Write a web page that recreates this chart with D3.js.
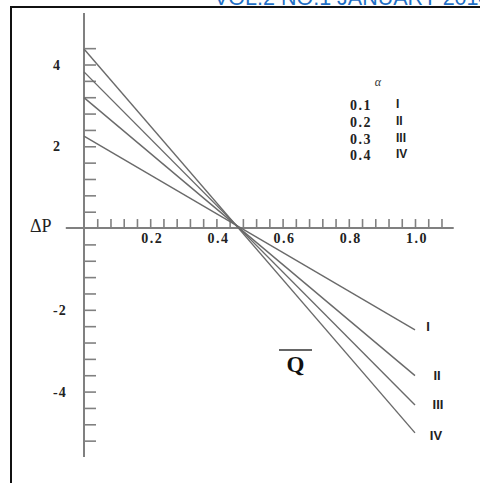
<!DOCTYPE html>
<html>
<head>
<meta charset="utf-8">
<script src="https://cdn.jsdelivr.net/npm/d3@7"></script>
<style>
  body { margin: 0; background: #fff; }
  svg { display: block; }
</style>
</head>
<body>
<svg id="chart"></svg>
<script>
// Series data (delta P at Q = 0 and at Q = 1)
const alphas = [0.1, 0.2, 0.3, 0.4];
const seriesNames = ["I", "II", "III", "IV"];
const startValues = [2.25, 3.19, 3.82, 4.38];
const endValues = [-2.49, -3.61, -4.33, -5.01];
const qPoints = [0, 1];

// Axis labels
const xTickLabels = [0.2, 0.4, 0.6, 0.8, 1.0];
const yTickLabels = [4, 2, -2, -4];

const width = 480, height = 483;
const svg = d3.select("#chart").attr("width", width).attr("height", height);

const x = d3.scaleLinear().domain([0, 1]).range([84, 415]);
const y = d3.scaleLinear().domain([-5.6, 5.26]).range([457, 13]);

const axisColor = "#808080";
const serif = "'Liberation Serif', 'Times New Roman', serif";
const sans = "'Liberation Sans', Arial, sans-serif";

// page header (clipped at top, as on the page) and frame
svg.append("text")
    .attr("x", 214).attr("y", 5)
    .attr("font-family", sans).attr("font-size", "21.5px")
    .attr("fill", "#1f6fc5")
    .text("VOL.2 NO.1 JANUARY 2014");

svg.append("line").attr("x1", 10).attr("x2", width).attr("y1", 7).attr("y2", 7)
    .attr("stroke", "#111").attr("stroke-width", 2);
svg.append("line").attr("x1", 11).attr("x2", 11).attr("y1", 6).attr("y2", height)
    .attr("stroke", "#111").attr("stroke-width", 2);

// axis lines
svg.append("line")
    .attr("x1", x(-0.055)).attr("x2", x(1.117))
    .attr("y1", y(0)).attr("y2", y(0))
    .attr("stroke", axisColor).attr("stroke-width", 2);
svg.append("line")
    .attr("x1", x(0)).attr("x2", x(0))
    .attr("y1", y(5.26)).attr("y2", y(-5.6))
    .attr("stroke", axisColor).attr("stroke-width", 2);

// minor ticks, no labels
const xTicks = d3.range(1, 28).map(i => i * 0.04);
const yTicks = d3.range(-13, 12).filter(i => i !== 0).map(i => i * 0.4);

const xAxis = svg.append("g")
    .attr("transform", `translate(0,${y(0)})`)
    .call(d3.axisTop(x).tickValues(xTicks).tickSize(9).tickFormat(""));
xAxis.select(".domain").remove();
xAxis.selectAll("line").attr("stroke", axisColor).attr("stroke-width", 1.6);

const yAxis = svg.append("g")
    .attr("transform", `translate(${x(0)},0)`)
    .call(d3.axisRight(y).tickValues(yTicks).tickSize(12).tickFormat(""));
yAxis.select(".domain").remove();
yAxis.selectAll("line").attr("stroke", axisColor).attr("stroke-width", 1.6);

// tick labels
svg.selectAll(".xlab").data(xTickLabels).enter().append("text")
    .attr("x", d => x(d) + 2)
    .attr("y", y(0) + 15)
    .attr("text-anchor", "middle")
    .attr("font-family", serif).attr("font-weight", "bold")
    .attr("font-size", "14px").attr("letter-spacing", "1.5px")
    .attr("fill", "#222")
    .text(d => d.toFixed(1));

svg.selectAll(".ylab").data(yTickLabels).enter().append("text")
    .attr("x", 53)
    .attr("y", d => y(d) + 5)
    .attr("font-family", serif).attr("font-weight", "bold")
    .attr("font-size", "14px").attr("letter-spacing", "1px")
    .attr("fill", "#222")
    .text(d => d);

// axis titles
svg.append("text")
    .attr("x", 30).attr("y", y(0) + 4)
    .attr("font-family", serif).attr("font-size", "18px")
    .attr("fill", "#222")
    .text("ΔP");

svg.append("text")
    .attr("x", 295.5).attr("y", 372)
    .attr("text-anchor", "middle")
    .attr("font-family", serif).attr("font-weight", "bold")
    .attr("font-size", "23px").attr("fill", "#111")
    .text("Q");
svg.append("line")
    .attr("x1", 279).attr("x2", 312).attr("y1", 350).attr("y2", 350)
    .attr("stroke", "#333").attr("stroke-width", 1.5);

// lines
const line = d3.line().x(d => x(d[0])).y(d => y(d[1]));
const series = seriesNames.map((name, i) => ({
    name,
    alpha: alphas[i],
    points: qPoints.map(q => [q, startValues[i] + (endValues[i] - startValues[i]) * q])
}));

svg.selectAll(".series").data(series).enter().append("path")
    .attr("d", d => line(d.points))
    .attr("fill", "none")
    .attr("stroke", "#6a6a6a")
    .attr("stroke-width", 1.4);

// end labels
const labelDx = [13, 22, 23, 21];
const labelDy = [1, 4, 4, 7];
svg.selectAll(".endlab").data(series).enter().append("text")
    .attr("x", (d, i) => x(1) + labelDx[i])
    .attr("y", (d, i) => y(endValues[i]) + labelDy[i])
    .attr("text-anchor", "middle")
    .attr("font-family", sans).attr("font-weight", "bold")
    .attr("font-size", "13px").attr("fill", "#222")
    .text(d => d.name);

// legend
svg.append("text")
    .attr("x", 378).attr("y", 86)
    .attr("text-anchor", "middle")
    .attr("font-family", serif).attr("font-style", "italic")
    .attr("font-size", "12px").attr("fill", "#333")
    .text("α");

const legend = svg.selectAll(".leg").data(series).enter().append("g")
    .attr("transform", (d, i) => `translate(350,${110 + i * 16.8})`);
legend.append("text")
    .attr("font-family", serif).attr("font-weight", "bold")
    .attr("font-size", "14px").attr("letter-spacing", "1.5px")
    .attr("fill", "#222")
    .text(d => d.alpha.toFixed(1));
legend.append("text")
    .attr("x", 46).attr("y", -2)
    .attr("font-family", sans).attr("font-weight", "bold")
    .attr("font-size", "12px").attr("fill", "#222")
    .text(d => d.name);
</script>
</body>
</html>
